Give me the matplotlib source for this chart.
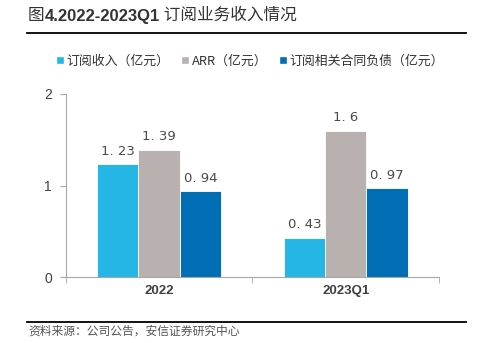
import numpy as np
import matplotlib.pyplot as plt
from matplotlib.lines import Line2D

plt.rcParams['font.family'] = ['Noto Sans CJK SC', 'DejaVu Sans']

categories = ["2022", "2023Q1"]
series_names = ["订阅收入（亿元）", "ARR（亿元）", "订阅相关合同负债（亿元）"]
revenue = [1.23, 0.43]
arr = [1.39, 1.6]
liabilities = [0.94, 0.97]
value_labels = [["1. 23", "0. 43"], ["1. 39", "1. 6"], ["0. 94", "0. 97"]]
colors = ["#25B6E6", "#B8B1AF", "#006EB4"]

fig = plt.figure(figsize=(4.84, 3.43), dpi=100)
ax = fig.add_axes([0.136, 0.192, 0.771, 0.534])

x = np.arange(len(categories))
w = 0.221
for i, vals in enumerate([revenue, arr, liabilities]):
    bars = ax.bar(x + (i - 1) * w, vals, w, color=colors[i], label=series_names[i],
                  edgecolor="white", linewidth=0.6)
    for b, lab in zip(bars, value_labels[i]):
        ax.text(b.get_x() + b.get_width() / 2, b.get_height() + 0.07, lab,
                ha="center", va="bottom", fontsize=9.5, color="#4a4a4a",
                family=["DejaVu Sans"])

ax.set_xlim(-0.5, 1.5)
ax.set_ylim(0, 2)
ax.set_yticks([0, 1, 2])
ax.set_xticks(x)
ax.set_xticklabels(categories, fontsize=9.5, fontweight="bold", color="#404040",
                   family=["Liberation Sans"])
ax.set_xticks([-0.5, 0.5, 1.5], minor=True)
ax.tick_params(axis="x", which="major", length=0, pad=6)
ax.tick_params(axis="x", which="minor", length=4, color="#A6A6A6", direction="out")
ax.tick_params(axis="y", length=4, color="#A6A6A6", labelsize=10, labelcolor="#404040", pad=6)
for lab in ax.get_yticklabels():
    lab.set_family(["Liberation Sans"])
for s in ["top", "right"]:
    ax.spines[s].set_visible(False)
for s in ["left", "bottom"]:
    ax.spines[s].set_color("#A6A6A6")
    ax.spines[s].set_linewidth(0.8)

handles = [Line2D([0], [0], marker="s", color="w", markerfacecolor=c, markersize=5.5, linestyle="")
           for c in colors]
fig.legend(handles, series_names, loc="center", bbox_to_anchor=(0.515, 0.822), ncol=3,
           frameon=False, fontsize=9.3, handletextpad=0.1, columnspacing=0.8,
           handlelength=0.8, labelcolor="#333333")

# title pieces
t1 = fig.text(0.058, 0.942, "图", fontsize=12, color="#333333", va="baseline")
a2 = ax.annotate("4.2022-2023Q1", xy=(1, 0), xycoords=t1, va="bottom", ha="left",
                 fontsize=12, fontweight="bold", color="#333333",
                 family=["Liberation Sans"], annotation_clip=False)
a3 = ax.annotate(" 订阅业务收入情况", xy=(1, 0), xycoords=a2, va="bottom", ha="left",
                 fontsize=12, color="#333333", annotation_clip=False)

fig.add_artist(Line2D([0.056, 0.963], [0.905, 0.905], color="black", linewidth=1.3))
fig.add_artist(Line2D([0.056, 0.963], [0.062, 0.062], color="black", linewidth=1.3))
fig.text(0.058, 0.035, "资料来源：公司公告，安信证券研究中心", fontsize=8.5, color="#555555",
         va="center")

fig.savefig("out.png", dpi=100)
